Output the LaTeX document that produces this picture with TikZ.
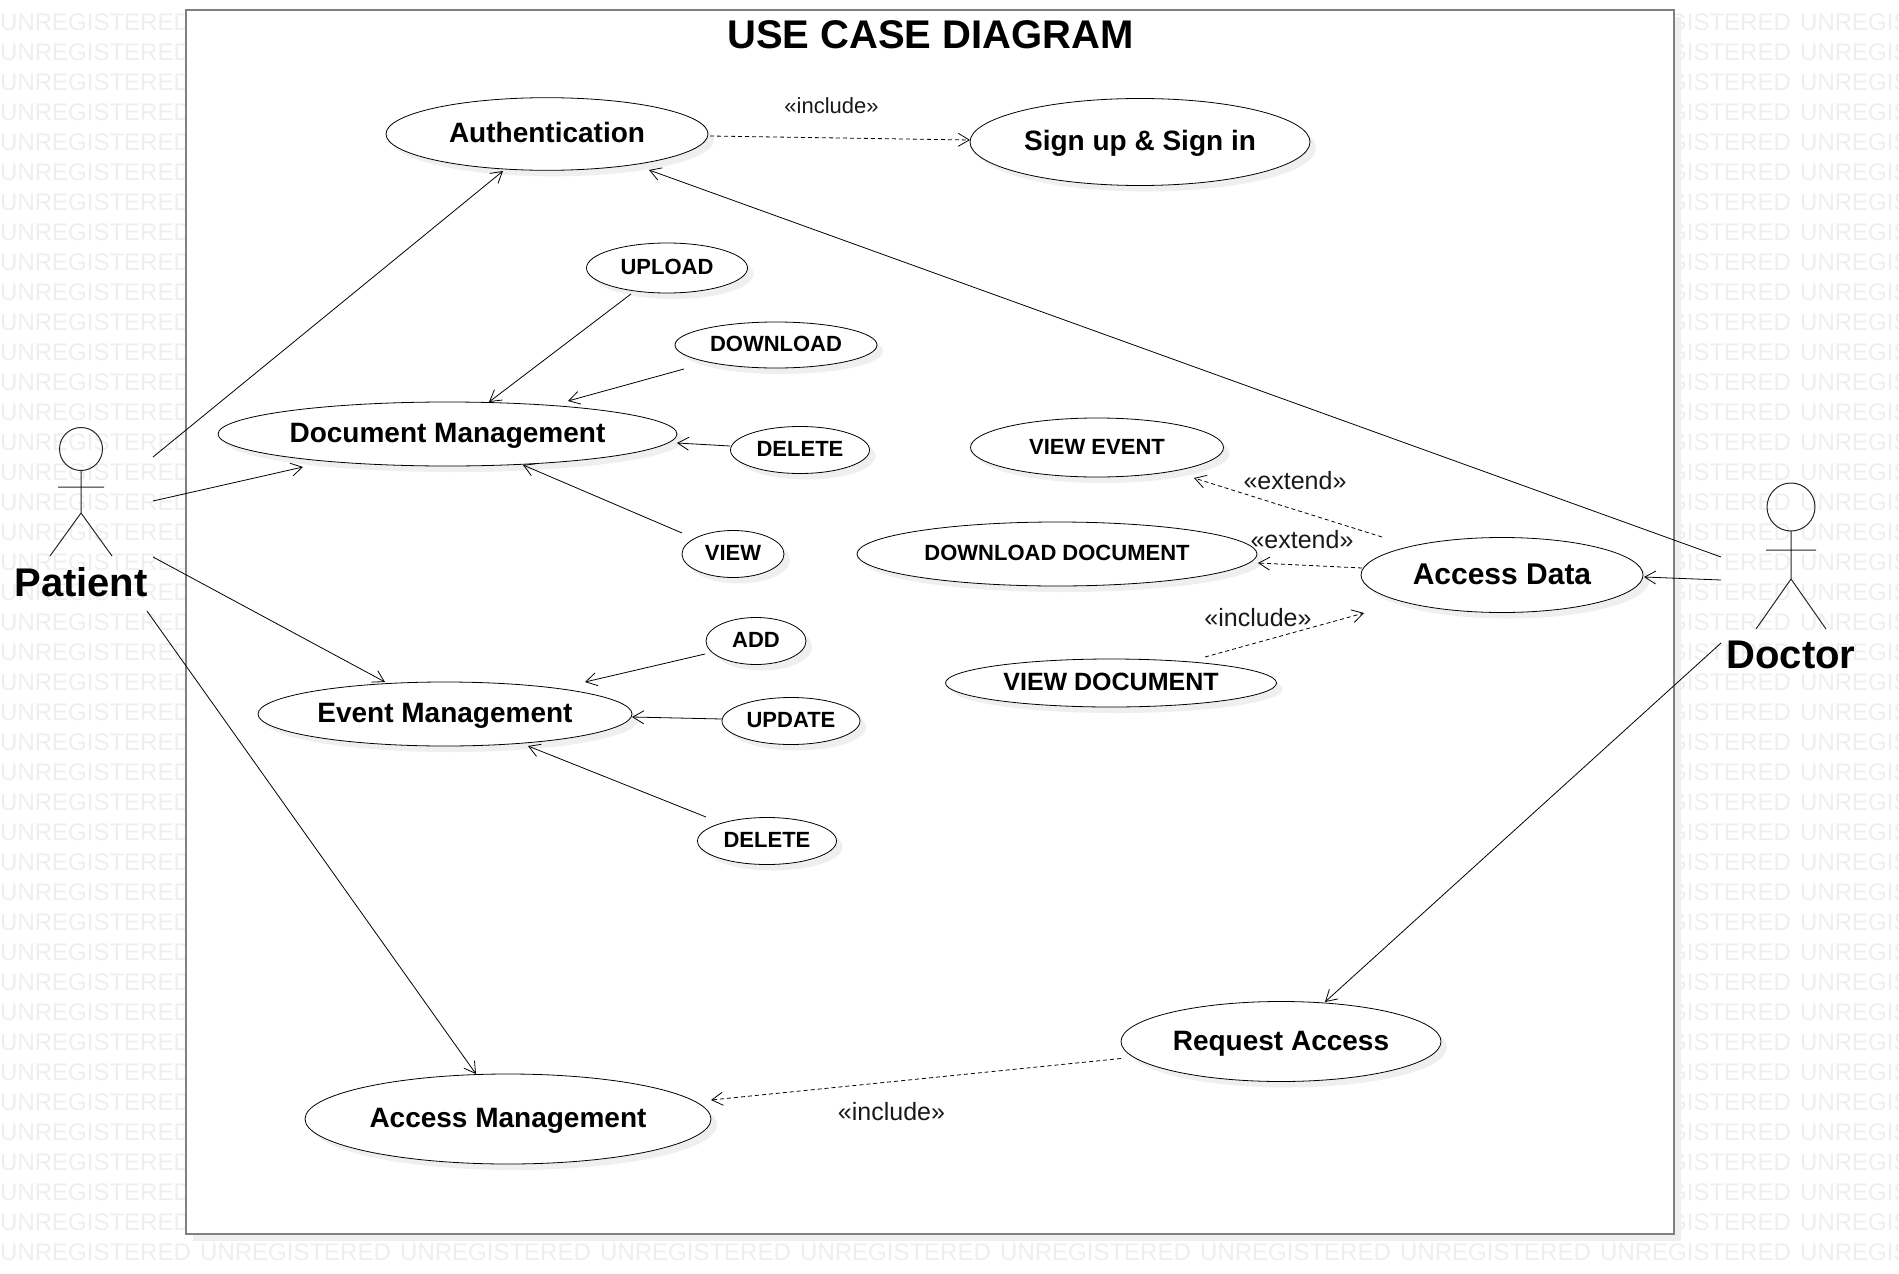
\documentclass[tikz,border=0pt]{standalone}
\usepackage{fontspec}
\setmainfont{Liberation Sans}
\usetikzlibrary{arrows.meta,shapes.geometric,shadows}
\definecolor{wmgray}{HTML}{EEEEEF}
\definecolor{shgray}{HTML}{EFEFEF}
\definecolor{framegray}{HTML}{808080}
\tikzset{
  wm/.style={anchor=west,inner sep=0pt,text=wmgray,font=\fontsize{24}{28}\selectfont},
  uc/.style n args={3}{ellipse,draw=black,line width=.8pt,fill=white,inner sep=0pt,outer sep=0pt,
    minimum width=#1pt,minimum height=#2pt,text height={0.72*#3pt},text depth={0.1*#3pt},
    font=\fontsize{#3}{#3}\selectfont\bfseries,
    drop shadow={shadow xshift=6pt,shadow yshift=-6pt,fill=shgray,opacity=1}},
  lbl/.style={inner sep=0pt,text height={0.72*#1pt},text depth=0pt,font=\fontsize{#1}{#1}\selectfont,text=black!90},
  actorname/.style={inner sep=0pt,text height=28.8pt,text depth=0pt,font=\fontsize{40}{40}\selectfont\bfseries},
  assoc/.style={line width=.8pt,-{Straight Barb[length=11pt,width=13pt,line width=.8pt]}},
  dep/.style={assoc,dash pattern=on 4pt off 3pt},
  stick/.style={line width=1pt,draw=black!85},
}
\begin{document}
\begin{tikzpicture}[x=1pt,y=-1pt]
\useasboundingbox (0,0) rectangle (1899,1274);
\clip (0,0) rectangle (1899,1274);
% watermark
\foreach \k in {0,...,40} {
  \node[wm,name=wa\k] at (0,{22+30*\k}) {UNREGISTERED};
  \node[wm,name=wb\k] at (1600,{22+30*\k}) {UNREGISTERED};
  \node[wm,name=wc\k] at (1800,{22+30*\k}) {UNREGISTERED};
}
\foreach \j in {0,...,9} {
  \node[wm,name=wr\j] at ({200*\j},1252) {UNREGISTERED};
}
% frame
\fill[shgray] (193,17) rectangle (1681,1241);
\draw[framegray,line width=2pt,fill=white] (186,10) rectangle (1674,1234);
\node[inner sep=0pt,text height=28.8pt,text depth=0pt,font=\fontsize{40}{40}\selectfont\bfseries] (title) at (930.5,34) {USE CASE DIAGRAM};
% use cases
\node[uc={322}{72.6}{28}] (auth) at (547,134) {Authentication};
\node[uc={340}{87}{28}] (signup) at (1140,142) {Sign up \& Sign in};
\node[uc={161}{50}{22}] (upload) at (667,268) {UPLOAD};
\node[uc={202}{46}{22}] (download) at (776,345) {DOWNLOAD};
\node[uc={459}{64}{28}] (doc) at (447.5,434) {Document Management};
\node[uc={139}{47}{22}] (delete) at (800,450) {DELETE};
\node[uc={102}{47}{22}] (view) at (733,554) {VIEW};
\node[uc={100}{47}{22}] (add) at (756,641) {ADD};
\node[uc={374}{64}{28}] (event) at (445,714) {Event Management};
\node[uc={138}{47}{22}] (update) at (791,721) {UPDATE};
\node[uc={139}{47}{22}] (deletetwo) at (767,841) {DELETE};
\node[uc={253}{59}{22}] (viewevent) at (1097,447.5) {VIEW EVENT};
\node[uc={400}{64}{22}] (dldoc) at (1057,554) {DOWNLOAD DOCUMENT};
\node[uc={331}{48}{25}] (viewdoc) at (1111,683) {VIEW DOCUMENT};
\node[uc={282}{75}{30}] (data) at (1502,575) {Access Data};
\node[uc={320}{80}{28}] (request) at (1281,1041.5) {Request Access};
\node[uc={406}{90}{28}] (mgmt) at (508,1119) {Access Management};
% actors
\draw[stick] (81,449) circle[radius=21.5pt];
\draw[stick] (81,471) -- (81,513) (58,487) -- (104,487) (50,556) -- (81,513) -- (112,556);
\node[actorname] (patient) at (81,582) {Patient};
\draw[stick] (1791,507) circle[radius=24pt];
\draw[stick] (1791,531) -- (1791,579) (1766,550) -- (1816,550) (1756,629) -- (1791,579) -- (1826,629);
\node[actorname] (doctor) at (1791,654) {Doctor};
% associations
\draw[assoc] ([shift={(72,-125)}]patient.center) -- ([shift={(-44,37)}]auth.center);
\draw[assoc] ([shift={(72,-81)}]patient.center) -- ([shift={(-144.5,33)}]doc.center);
\draw[assoc] ([shift={(72,-25)}]patient.center) -- ([shift={(-60,-32)}]event.center);
\draw[assoc] ([shift={(66,29)}]patient.center) -- ([shift={(-32,-45)}]mgmt.center);
\draw[assoc] ([shift={(-36,26)}]upload.center) -- ([shift={(41.5,-32)}]doc.center);
\draw[assoc] ([shift={(-92,24)}]download.center) -- ([shift={(120.5,-33)}]doc.center);
\draw[assoc] ([shift={(-70,-4)}]delete.center) -- ([shift={(229.5,9)}]doc.center);
\draw[assoc] ([shift={(-51,-21)}]view.center) -- ([shift={(75.5,31)}]doc.center);
\draw[assoc] ([shift={(-51,13)}]add.center) -- ([shift={(140,-32)}]event.center);
\draw[assoc] ([shift={(-69,-2)}]update.center) -- ([shift={(187,3)}]event.center);
\draw[assoc] ([shift={(-61,-24)}]deletetwo.center) -- ([shift={(83,32)}]event.center);
\draw[assoc] ([shift={(-70,-97)}]doctor.center) -- ([shift={(102,36)}]auth.center);
\draw[assoc] ([shift={(-70,-74)}]doctor.center) -- ([shift={(142,2)}]data.center);
\draw[assoc] ([shift={(-70,-11)}]doctor.center) -- ([shift={(44,-39.5)}]request.center);
% dependencies
\draw[dep] ([shift={(163,2)}]auth.center) -- ([shift={(-170,-2)}]signup.center);
\draw[dep] ([shift={(-120,-38)}]data.center) -- ([shift={(97,30.5)}]viewevent.center);
\draw[dep] ([shift={(-140,-7)}]data.center) -- ([shift={(201,9)}]dldoc.center);
\draw[dep] ([shift={(94,-26)}]viewdoc.center) -- ([shift={(-138,38)}]data.center);
\draw[dep] ([shift={(-160,17)}]request.center) -- ([shift={(203,-19)}]mgmt.center);
% stereotypes
\node[lbl=22] (l1) at (831.5,105.5) {«include»};
\node[lbl=25] (l2) at (1295,480) {«extend»};
\node[lbl=25] (l3) at (1302,539) {«extend»};
\node[lbl=25] (l4) at (1258,617) {«include»};
\node[lbl=25] (l5) at (891.5,1111) {«include»};
\end{tikzpicture}
\end{document}
